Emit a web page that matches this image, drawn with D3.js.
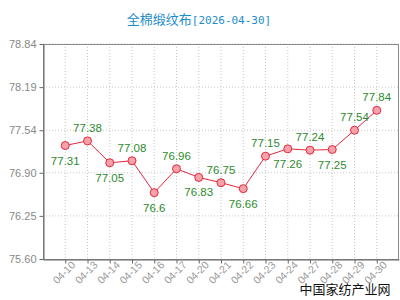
<!DOCTYPE html>
<html>
<head>
<meta charset="utf-8">
<script src="https://cdn.jsdelivr.net/npm/d3@7"></script>
<style>
  body { margin: 0; background: #fff; }
  svg { display: block; font-family: "Liberation Sans", Arial, sans-serif; }
</style>
</head>
<body>
<div id="chart"></div>
<script>
const titleName = "全棉缎纹布"
const titleDate = "[2026-04-30]"
const dates = ["04-10", "04-13", "04-14", "04-15", "04-16", "04-17", "04-20", "04-21",
               "04-22", "04-23", "04-24", "04-27", "04-28", "04-29", "04-30"]
const prices = [77.31, 77.38, 77.05, 77.08, 76.6, 76.96, 76.83, 76.75,
                76.66, 77.15, 77.26, 77.24, 77.25, 77.54, 77.84]
const yTicks = [75.60, 76.25, 76.90, 77.54, 78.19, 78.84]
const watermark = "中国家纺产业网"

const width = 400, height = 300
const margin = { top: 44, right: 1, bottom: 41, left: 43 }

const svg = d3.select("#chart").append("svg")
    .attr("width", width)
    .attr("height", height)

// title: CJK part plus a monospace date
const title = svg.append("text")
    .attr("x", 199)
    .attr("y", 24)
    .attr("text-anchor", "middle")
    .attr("fill", "#1a8dcc")
title.append("tspan")
    .style("font-family", "'Noto Sans CJK SC', sans-serif")
    .style("font-size", "13px")
    .text(titleName)
title.append("tspan")
    .style("font-family", "'DejaVu Sans Mono', monospace")
    .style("font-size", "11px")
    .text(titleDate)

const x = d3.scalePoint()
    .domain(dates)
    .range([margin.left, width - margin.right])
    .padding(1)

const y = d3.scaleLinear()
    .domain([75.60, 78.84])
    .range([height - margin.bottom, margin.top])

// grid
svg.append("g").selectAll("line")
    .data(dates)
    .enter().append("line")
    .attr("x1", d => x(d)).attr("x2", d => x(d))
    .attr("y1", margin.top).attr("y2", height - margin.bottom)
    .attr("stroke", "#c8c8c8")
    .attr("stroke-dasharray", "1,2")

svg.append("g").selectAll("line")
    .data(yTicks.slice(1))
    .enter().append("line")
    .attr("x1", margin.left).attr("x2", width - margin.right)
    .attr("y1", d => y(d)).attr("y2", d => y(d))
    .attr("stroke", "#c8c8c8")
    .attr("stroke-dasharray", "1,2")

// plot border
svg.append("rect")
    .attr("x", margin.left + 0.5)
    .attr("y", margin.top + 0.5)
    .attr("width", width - margin.left - margin.right - 1)
    .attr("height", height - margin.top - margin.bottom)
    .attr("fill", "none")
    .attr("stroke", "#8a8a8a")

// y axis
const yAxis = svg.append("g")
    .attr("transform", "translate(" + (margin.left + 0.5) + ",0)")
    .call(d3.axisLeft(y).tickValues(yTicks).tickFormat(d3.format(".2f")).tickSize(4).tickSizeOuter(0))
yAxis.select(".domain").attr("stroke", "#666")
yAxis.selectAll(".tick line").attr("stroke", "#666")
yAxis.selectAll("text")
    .attr("fill", "#888")
    .attr("x", -7)
    .style("font-size", "11px")

// x axis
const xAxis = svg.append("g")
    .attr("transform", "translate(0," + (height - margin.bottom + 0.5) + ")")
    .call(d3.axisBottom(x).tickSize(4).tickSizeOuter(0))
xAxis.select(".domain").attr("stroke", "#666")
xAxis.selectAll(".tick line").attr("stroke", "#666")
xAxis.selectAll("text")
    .attr("fill", "#999")
    .style("font-size", "10.5px")
    .attr("text-anchor", "end")
    .attr("x", 3)
    .attr("y", 8)
    .attr("dy", "0.35em")
    .attr("transform", "rotate(-45)")

// line
const line = d3.line()
    .x((d, i) => x(dates[i]))
    .y(d => y(d))

svg.append("path")
    .datum(prices)
    .attr("d", line)
    .attr("fill", "none")
    .attr("stroke", "#e4283c")
    .attr("stroke-width", 1)

svg.append("g").selectAll("circle")
    .data(prices)
    .enter().append("circle")
    .attr("cx", (d, i) => x(dates[i]))
    .attr("cy", d => y(d))
    .attr("r", 4)
    .attr("fill", "#f7a2ab")
    .attr("stroke", "#e4283c")
    .attr("stroke-width", 1)

// value labels: alternate below / above, last one above
svg.append("g").selectAll("text")
    .data(prices)
    .enter().append("text")
    .attr("x", (d, i) => x(dates[i]))
    .attr("y", (d, i) => {
        const above = (i % 2 === 1) || i === prices.length - 1
        return above ? y(d) - 9 : y(d) + 19
    })
    .attr("text-anchor", "middle")
    .attr("fill", "#2e8b2e")
    .style("font-size", "11.5px")
    .text(d => d)

// watermark
svg.append("text")
    .attr("x", 345)
    .attr("y", 294)
    .attr("text-anchor", "middle")
    .attr("fill", "#111")
    .style("font-family", "'Noto Sans CJK SC', sans-serif")
    .style("font-size", "13px")
    .text(watermark)
</script>
</body>
</html>
